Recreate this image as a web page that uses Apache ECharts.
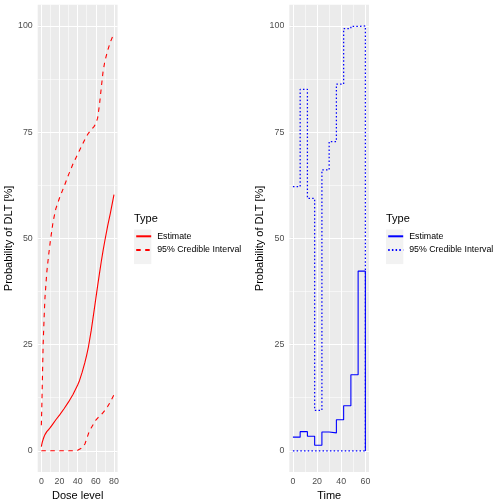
<!DOCTYPE html>
<html lang="en">
<head>
    <meta charset="UTF-8">
    <title>Probability of DLT</title>
    <script src="https://cdn.jsdelivr.net/npm/echarts@6/dist/echarts.min.js"></script>
    <style>html, body { margin: 0; padding: 0; background: #fff; }</style>
</head>
<body>
    <div id="chart" style="width: 504px; height: 504px;"></div>

    <script>
        // #region data - left panel (dose level)
        var doseLevels = [0, 0.5, 1, 1.5, 2, 3, 4, 6, 8, 10, 13, 16, 20, 25, 30, 35, 40, 42, 45, 48, 50, 52, 55, 58, 60, 62, 64, 66, 68, 70, 73, 76, 80]
        var doseEstimate = [1.0, 1.5, 2.0, 2.4, 2.7, 3.3, 3.8, 4.5, 5.0, 5.5, 6.4, 7.3, 8.4, 9.9, 11.5, 13.3, 15.5, 16.5, 18.5, 20.8, 22.6, 24.6, 28.4, 32.8, 35.8, 38.8, 41.7, 44.5, 47.1, 49.5, 52.9, 55.9, 60.3]
        var doseUpper = [6, 10, 15, 20, 25, 31, 36, 42, 46, 49.5, 54, 57, 59.5, 62.2, 65, 67.6, 69.8, 70.7, 72, 73.3, 74.1, 74.8, 75.6, 76.3, 77, 78.3, 81.4, 85.4, 89.3, 91.7, 94.2, 96.2, 98.3]
        var doseLower = [0, 0, 0, 0, 0, 0, 0, 0, 0, 0, 0, 0, 0, 0, 0, 0, 0.1, 0.3, 0.7, 1.6, 2.8, 4.1, 5.4, 6.5, 7.2, 7.7, 8.1, 8.5, 9.0, 9.5, 10.4, 11.5, 13.2]
        // #endregion

        // #region data - right panel (time, step lines)
        var times = [0, 6, 12, 18, 24, 30, 36, 42, 48, 54, 60]
        var timeEstimate = [3.2, 4.5, 3.4, 1.3, 4.4, 4.2, 7.3, 10.6, 17.9, 42.3, 0]
        var timeUpper = [62.2, 85.1, 59.4, 9.5, 66.1, 72.8, 86.3, 99.4, 99.9, 100, 0]
        var timeLower = [0, 0, 0, 0, 0, 0, 0, 0, 0, 0, 0]
        // #endregion

        // #region ticks
        var yTicks = [0, 25, 50, 75, 100]
        var yMinor = [12.5, 37.5, 62.5, 87.5]
        var doseTicks = [0, 20, 40, 60, 80]
        var doseMinor = [10, 30, 50, 70]
        var timeTicks = [0, 20, 40, 60]
        var timeMinor = [10, 30, 50]
        // #endregion

        var FONT = "Liberation Sans, Arial, sans-serif"

        function pairs(xs, ys) {
            return xs.map(function (x, i) { return [x, ys[i]] })
        }

        function gridLines(xMajor, xMinor) {
            var out = []
            yMinor.forEach(function (v) { out.push({ yAxis: v, lineStyle: { color: "#fff", width: 0.55, type: "solid" } }) })
            xMinor.forEach(function (v) { out.push({ xAxis: v, lineStyle: { color: "#fff", width: 0.55, type: "solid" } }) })
            yTicks.forEach(function (v) { out.push({ yAxis: v, lineStyle: { color: "#fff", width: 1.07, type: "solid" } }) })
            xMajor.forEach(function (v) { out.push({ xAxis: v, lineStyle: { color: "#fff", width: 1.07, type: "solid" } }) })
            return out
        }

        function xAxisOf(idx, min, max, ticks, name) {
            return {
                type: "value", gridIndex: idx, min: min, max: max,
                axisLine: { show: false },
                axisTick: { show: true, customValues: ticks, length: 2.75, lineStyle: { color: "#333333", width: 1.07 } },
                axisLabel: { customValues: ticks, color: "#4D4D4D", fontSize: 8.8, fontFamily: FONT, margin: 5 },
                splitLine: { show: false },
                name: name, nameLocation: "middle", nameGap: 15,
                nameTextStyle: { fontSize: 11, color: "#000", fontFamily: FONT }
            }
        }

        function yAxisOf(idx) {
            return {
                type: "value", gridIndex: idx, min: -5, max: 105,
                axisLine: { show: false },
                axisTick: { show: true, customValues: yTicks, length: 2.75, lineStyle: { color: "#333333", width: 1.07 } },
                axisLabel: { customValues: yTicks, color: "#4D4D4D", fontSize: 8.8, fontFamily: FONT, margin: 5 },
                splitLine: { show: false },
                name: "Probability of DLT [%]", nameLocation: "middle", nameGap: 18,
                nameTextStyle: { fontSize: 11, color: "#000", fontFamily: FONT }
            }
        }

        function lineSeries(name, idx, data, color, dash, step, width) {
            return {
                name: name, type: "line", xAxisIndex: idx, yAxisIndex: idx,
                data: data, symbol: "none", showSymbol: false, step: step || false,
                z: 3, silent: true,
                lineStyle: { color: color, width: width || 1.1, type: dash },
                itemStyle: { color: color }
            }
        }

        function legendOf(left, names) {
            return {
                data: names, orient: "vertical", left: left, top: 229.5,
                itemWidth: 15, itemHeight: 17, itemGap: 0, padding: 0,
                selectedMode: false,
                itemStyle: { opacity: 0, borderWidth: 0 },
                textStyle: { fontSize: 8.8, color: "#000", fontFamily: FONT, padding: [0, 0, 0, 1] }
            }
        }

        var chart = echarts.init(document.getElementById("chart"))
        var options = {
            animation: false,
            textStyle: { fontFamily: FONT },
            title: [
                { text: "Type", left: 134, top: 213, padding: 0, textStyle: { fontSize: 11, fontWeight: "normal", color: "#000", fontFamily: FONT } },
                { text: "Type", left: 386, top: 213, padding: 0, textStyle: { fontSize: 11, fontWeight: "normal", color: "#000", fontFamily: FONT } }
            ],
            graphic: [
                { type: "rect", z: 0, shape: { x: 134, y: 229.5, width: 17.3, height: 34.6 }, style: { fill: "#F2F2F2" } },
                { type: "rect", z: 0, shape: { x: 386, y: 229.5, width: 17.3, height: 34.6 }, style: { fill: "#F2F2F2" } }
            ],
            legend: [
                legendOf(135.2, ["Estimate", "95% Credible Interval"]),
                legendOf(387.2, ["Estimate ", "95% Credible Interval "])
            ],
            grid: [
                { left: 37.7, top: 4.75, width: 79.9, height: 467.25, show: true, backgroundColor: "#EBEBEB", borderWidth: 0, outerBoundsMode: "none", containLabel: false },
                { left: 289.3, top: 4.75, width: 79.7, height: 467.25, show: true, backgroundColor: "#EBEBEB", borderWidth: 0, outerBoundsMode: "none", containLabel: false }
            ],
            xAxis: [
                xAxisOf(0, -4, 84, doseTicks, "Dose level"),
                xAxisOf(1, -3, 63, timeTicks, "Time")
            ],
            yAxis: [yAxisOf(0), yAxisOf(1)],
            series: [
                {
                    type: "line", xAxisIndex: 0, yAxisIndex: 0, data: [], z: 1, silent: true,
                    markLine: { silent: true, symbol: "none", label: { show: false }, z: 1, animation: false, data: gridLines(doseTicks, doseMinor) }
                },
                {
                    type: "line", xAxisIndex: 1, yAxisIndex: 1, data: [], z: 1, silent: true,
                    markLine: { silent: true, symbol: "none", label: { show: false }, z: 1, animation: false, data: gridLines(timeTicks, timeMinor) }
                },
                lineSeries("Estimate", 0, pairs(doseLevels, doseEstimate), "#FF0000", "solid"),
                lineSeries("95% Credible Interval", 0, pairs(doseLevels, doseUpper), "#FF0000", [4.5, 4.5]),
                lineSeries("95% Credible Interval", 0, pairs(doseLevels, doseLower), "#FF0000", [4.5, 4.5]),
                lineSeries("Estimate ", 1, pairs(times, timeEstimate), "#0000FF", "solid", "end"),
                lineSeries("95% Credible Interval ", 1, pairs(times, timeUpper), "#0000FF", [1.5, 2.2], "end", 1.25),
                lineSeries("95% Credible Interval ", 1, pairs(times, timeLower), "#0000FF", [1.5, 2.2], "end", 1.25)
            ]
        }
        chart.setOption(options)
    </script>
</body>
</html>
